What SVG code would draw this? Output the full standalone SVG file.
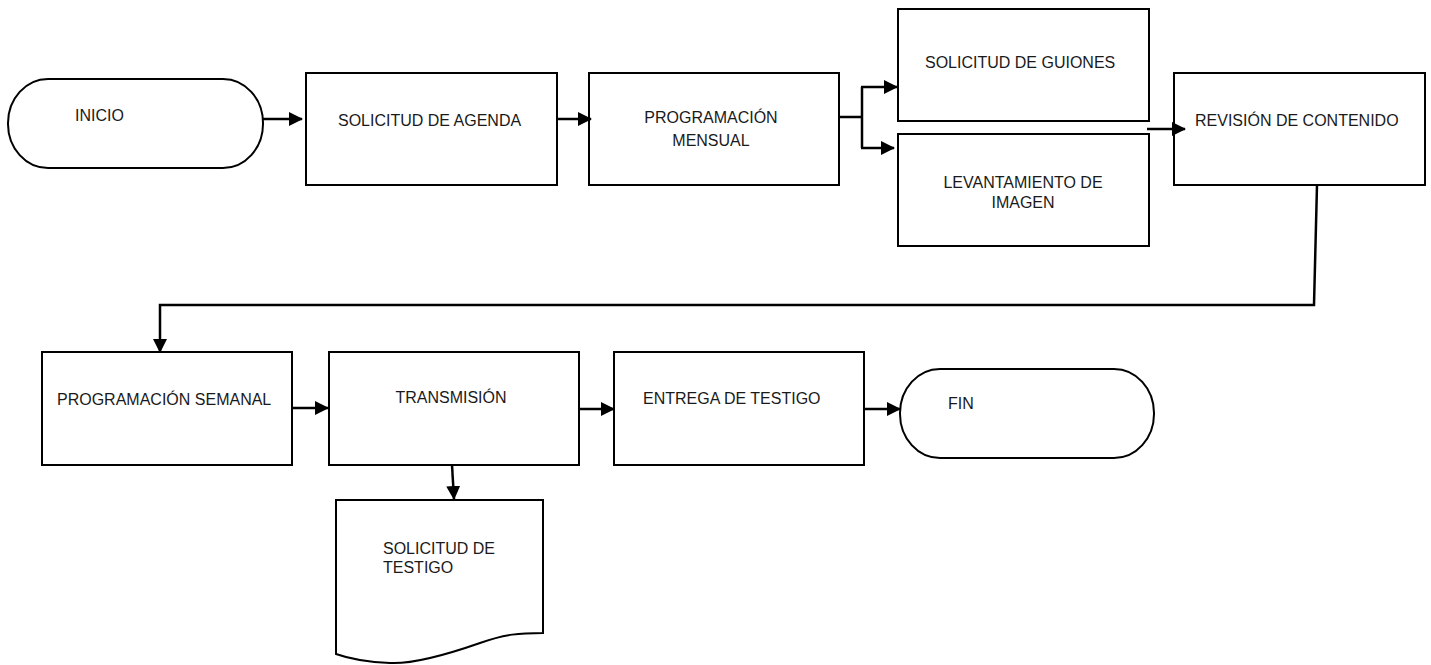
<svg xmlns="http://www.w3.org/2000/svg" width="1431" height="665" viewBox="0 0 1431 665">
<style>
.s{fill:#fff;stroke:#000;stroke-width:2}
.t{font-family:"Liberation Sans",Arial,sans-serif;font-size:16px;fill:#1a1a1a}
.c{fill:none;stroke:#000;stroke-width:2.5}
</style>
<defs>
<marker id="ah" markerWidth="14" markerHeight="14" viewBox="0 0 14 14" refX="13" refY="7" orient="auto" markerUnits="userSpaceOnUse">
<path d="M0,0 L14,7 L0,14 Z" fill="#000"/>
</marker>
</defs>
<rect width="1431" height="665" fill="#fff"/>
<g id="inicio"><rect class="s" x="8" y="79" width="255" height="89" rx="40" ry="44"/><text class="t" x="75" y="121">INICIO</text></g>
<g id="solicitud-agenda"><rect class="s" x="306" y="73" width="251" height="112"/><text class="t" x="338" y="126">SOLICITUD DE AGENDA</text></g>
<g id="programacion-mensual"><rect class="s" x="589" y="73" width="250" height="112"/><text class="t" text-anchor="middle"><tspan x="711" y="123">PROGRAMACIÓN</tspan><tspan x="711" y="146">MENSUAL</tspan></text></g>
<g id="solicitud-guiones"><rect class="s" x="898" y="9" width="251" height="112"/><text class="t" x="925" y="68">SOLICITUD DE GUIONES</text></g>
<g id="levantamiento"><rect class="s" x="898" y="134" width="251" height="112"/><text class="t" text-anchor="middle"><tspan x="1023" y="188">LEVANTAMIENTO DE</tspan><tspan x="1023" y="208">IMAGEN</tspan></text></g>
<g id="revision"><rect class="s" x="1174" y="73" width="251" height="112"/><text class="t" x="1195" y="126">REVISIÓN DE CONTENIDO</text></g>
<g id="programacion-semanal"><rect class="s" x="42" y="352" width="250" height="113"/><text class="t" x="57" y="405">PROGRAMACIÓN SEMANAL</text></g>
<g id="transmision"><rect class="s" x="329" y="352" width="250" height="113"/><text class="t" text-anchor="middle" x="451" y="403">TRANSMISIÓN</text></g>
<g id="entrega"><rect class="s" x="614" y="352" width="250" height="113"/><text class="t" x="643" y="404">ENTREGA DE TESTIGO</text></g>
<g id="fin"><rect class="s" x="900" y="369" width="254" height="89" rx="40" ry="44"/><text class="t" x="948" y="409">FIN</text></g>
<g id="solicitud-testigo"><path class="s" d="M336,500 H543 V633 C520,633 505,634 480,643 C440,657 410,664 390,663 C365,662 350,659 336,654 Z"/><text class="t"><tspan x="383" y="554">SOLICITUD DE</tspan><tspan x="383" y="573">TESTIGO</tspan></text></g>
<g id="connectors">
<path class="c" d="M263,119 H302" marker-end="url(#ah)"/>
<path class="c" d="M557,119 H591" marker-end="url(#ah)"/>
<path class="c" d="M839,117 H862 M862,87 V148"/>
<path class="c" d="M861,87 H897" marker-end="url(#ah)"/>
<path class="c" d="M861,148 H894" marker-end="url(#ah)"/>
<path class="c" d="M1147,129 H1185" marker-end="url(#ah)"/>
<path class="c" d="M1317,185 L1314,305 H160 V352" marker-end="url(#ah)"/>
<path class="c" d="M292,408 H328" marker-end="url(#ah)"/>
<path class="c" d="M579,409 H614" marker-end="url(#ah)"/>
<path class="c" d="M864,409 H900" marker-end="url(#ah)"/>
<path class="c" d="M452,465 L454,499" marker-end="url(#ah)"/>
</g>
</svg>
